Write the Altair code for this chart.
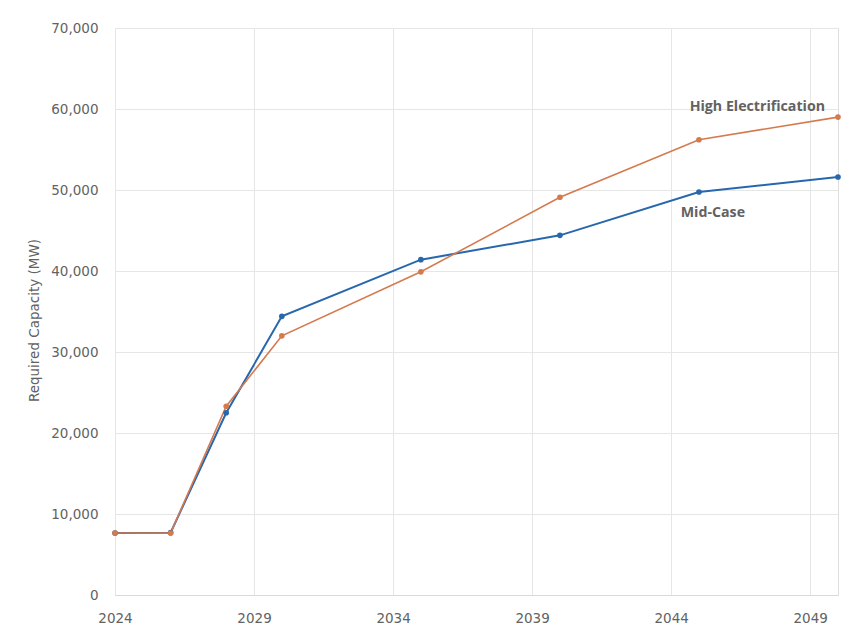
import altair as alt
import pandas as pd

# Study years and required capacity (MW) per scenario
years = [2024, 2026, 2028, 2030, 2035, 2040, 2045, 2050]
mid_case = [7650, 7700, 22500, 34400, 41400, 44400, 49750, 51600]
high_electrification = [7650, 7650, 23300, 32000, 39900, 49100, 56200, 59000]

series_names = ["Mid-Case", "High Electrification"]
series_colors = ["#2767ad", "#d47a4e"]
series_widths = [2.0, 1.6]

x_ticks = [2024, 2029, 2034, 2039, 2044, 2049]
y_ticks = [0, 10000, 20000, 30000, 40000, 50000, 60000, 70000]

rows = []
for name, vals, w in zip(series_names, [mid_case, high_electrification], series_widths):
    for yr, v in zip(years, vals):
        rows.append({"year": yr, "capacity": v, "series": name, "w": w})
df = pd.DataFrame(rows)

# Inline series labels
labels = pd.DataFrame({
    "series": ["High Electrification", "Mid-Case"],
    "year": [2047.1, 2045.5],
    "capacity": [60250, 47150],
})

GRAY = "#626262"
AXIS_FONT = "DejaVu Sans"
LABEL_FONT = "Open Sans"

x_enc = alt.X(
    "year:Q",
    scale=alt.Scale(domain=[2024, 2050], nice=False, zero=False),
    axis=alt.Axis(values=x_ticks, format="d", title=None, grid=True,
                  gridColor="#e6e6e6", domainColor="#d9d9d9", ticks=False,
                  labelFontSize=13.5, labelColor=GRAY, labelPadding=16,
                  labelFont=AXIS_FONT, labelFlush=False),
)
y_enc = alt.Y(
    "capacity:Q",
    scale=alt.Scale(domain=[0, 70000], nice=False),
    axis=alt.Axis(values=y_ticks, format=",d", title="Required Capacity (MW)",
                  grid=True, gridColor="#e6e6e6", domain=False, ticks=False,
                  labelFontSize=13.5, labelColor=GRAY, labelPadding=17,
                  labelFont=AXIS_FONT, titleFont=AXIS_FONT, titleFontSize=13.5,
                  titleFontWeight="normal", titleColor=GRAY, titlePadding=9,
                  titleY=292),
)
color_enc = alt.Color(
    "series:N",
    scale=alt.Scale(domain=series_names, range=series_colors),
    legend=None,
)

lines = alt.Chart(df).mark_line().encode(
    x=x_enc, y=y_enc, color=color_enc,
    strokeWidth=alt.StrokeWidth("w:Q", scale=None),
    order=alt.Order("year:Q"),
)
points = alt.Chart(df).mark_circle(size=32, opacity=1).encode(
    x="year:Q", y="capacity:Q", color=color_enc,
)
text = alt.Chart(labels).mark_text(
    font=LABEL_FONT, fontSize=14.2, fontWeight="bold", color=GRAY, align="center",
).encode(x="year:Q", y="capacity:Q", text="series:N")

chart = (
    alt.layer(lines, points, text)
    .properties(
        width=723, height=567,
        autosize=alt.AutoSizeParams(type="none"),
        padding={"left": 115, "top": 28, "right": 24, "bottom": 37},
    )
    .configure_view(stroke=None)
    .configure_axis(titleColor=GRAY, labelColor=GRAY)
    .configure(background="white")
)

chart.save("out.html", embed_options={"renderer": "svg", "actions": False})
